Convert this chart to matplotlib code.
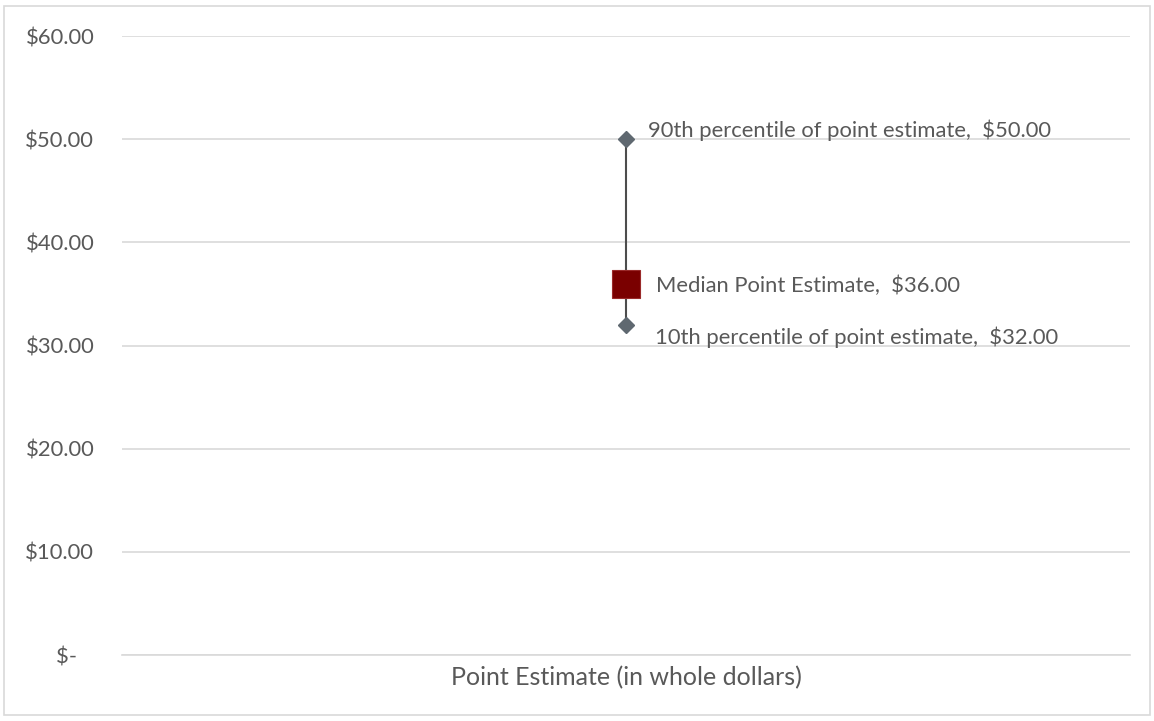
import matplotlib
matplotlib.use('Agg')
import matplotlib.pyplot as plt
from matplotlib.patches import Rectangle

# Data
categories = ['Point Estimate (in whole dollars)']
p10 = [32.0]
median = [36.0]
p90 = [50.0]
y_ticks = [0, 10, 20, 30, 40, 50, 60]
y_labels = ['$-   ', '$10.00', '$20.00', '$30.00', '$40.00', '$50.00', '$60.00']

TEXT = '#595959'
GRID = '#d9d9d9'
plt.rcParams['font.family'] = ['Lato', 'DejaVu Sans']

fig = plt.figure(figsize=(11.54, 7.21), dpi=100)
ax = fig.add_axes([122 / 1154, 1 - 655 / 721, (1130 - 122) / 1154, (655 - 36) / 721])

x = list(range(len(categories)))

# whisker line 10th -> 90th
ax.vlines(x, p10, p90, color='#4d4d4d', lw=1.5, zorder=2)
# end markers
ax.plot(x, p90, 'D', color='#5f6870', ms=8.5, zorder=3)
ax.plot(x, p10, 'D', color='#5f6870', ms=8.5, zorder=3)
# median
ax.plot(x, median, 's', color='#7a0000', mec='#9a2a2a', mew=0.8, ms=20, zorder=4)

FS = 15.8
for i in x:
    ax.annotate(f'90th percentile of point estimate,  ${p90[i]:.2f}', (i, p90[i]),
                xytext=(16, 1.5), textcoords='offset points', ha='left', va='baseline',
                fontsize=FS, color=TEXT)
    ax.annotate(f'Median Point Estimate,  ${median[i]:.2f}', (i, median[i]),
                xytext=(21.5, -5.8), textcoords='offset points', ha='left', va='baseline',
                fontsize=FS, color=TEXT)
    ax.annotate(f'10th percentile of point estimate,  ${p10[i]:.2f}', (i, p10[i]),
                xytext=(21, -13.5), textcoords='offset points', ha='left', va='baseline',
                fontsize=FS, color=TEXT)

ax.set_xlim(-0.5, len(categories) - 0.5)
ax.set_ylim(0, 60)
ax.set_yticks(y_ticks)
ax.set_yticklabels(y_labels)
ax.set_xticks(x)
ax.set_xticklabels(categories, fontsize=18)
ax.tick_params(axis='both', length=0, labelcolor=TEXT)
ax.tick_params(axis='y', pad=20, labelsize=FS)
ax.tick_params(axis='x', pad=8)
ax.yaxis.grid(True, color=GRID, lw=1.2)
ax.set_axisbelow(True)
for s in ['top', 'right', 'left']:
    ax.spines[s].set_visible(False)
ax.spines['bottom'].set_color(GRID)
ax.spines['bottom'].set_linewidth(1.2)

# outer chart border
fig.patches.append(Rectangle((4 / 1154, 6 / 721), 1146 / 1154, 709 / 721,
                             transform=fig.transFigure, fill=False,
                             edgecolor=GRID, lw=1.2))

fig.savefig('out.png', dpi=100)
